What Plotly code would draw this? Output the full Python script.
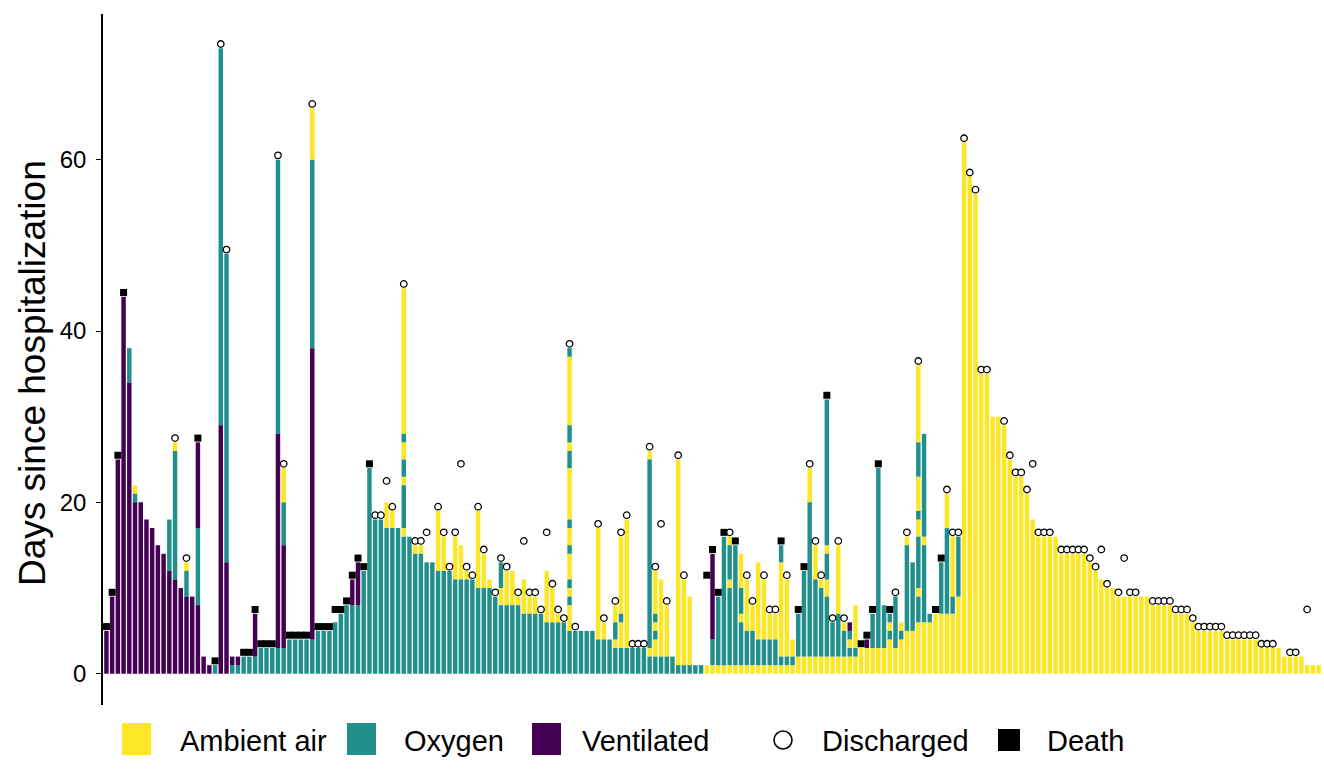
import plotly.graph_objects as go

# ---- data -------------------------------------------------------------
# One entry per patient: consecutive care states from admission upward,
# "A" ambient air, "O" oxygen, "V" ventilated, followed by number of days.
courses = [
    # 0-9
    "V5", "V9", "V25", "V44", "V34 O4", "V20 O1 A1", "V20", "V18", "V17", "V15",
    # 10-19
    "V14", "V12 O6", "V11 O15 A1", "V10", "V9 O3 A1", "V9", "V8 O9 V10", "V2", "V1", "O1",
    # 20-29
    "V29 O44", "V13 O36", "O1 V1", "O1 V1", "O2", "O2", "O2 V5", "O3", "O3", "O3",
    # 30-39
    "O3 V25 O32", "O3 V12 O5 A4", "O4", "O4", "O4", "O4", "O4 V34 O22 A6", "O5", "O5", "O5",
    # 40-49
    "O6", "O7", "O8", "O8 V3", "O8 V5", "O12", "O24", "O18", "O18", "O17 A3",
    # 50-59
    "O17 A2", "O17", "O16 A1 O5 A1 O2 A2 O1 A17", "O16", "O14 A1", "O14 A1", "O13", "O13",
    "O12 A7", "O12 A4",
    # 60-69
    "O12", "O11 A5", "O11 A4", "O11 A1", "O11", "O10 A9", "O10 A4", "O10 A1", "O9", "O8 A2 O3",
    # 70-79
    "O8 A4", "O8 A4", "O8 A1", "O7 A4", "O7 A2", "O7 A2", "O7", "O6 A6", "O6 A4", "O6 A1",
    # 80-89
    "O6", "O5 A3 O1 A1 O1 A3 O1 A2 O1 A6 O2 A1 O2 A8 O1", "O5", "O5", "O5", "O5", "O4 A13",
    "O4 A2", "O4", "O3 A1 O2 A2",
    # 90-99
    "O3 A3 O1 A9", "O3 A15", "O3", "O3", "O3", "O2 A1 O22 A1", "O2 A2 O1 A1 O1 A5", "O2 A9",
    "O2 A6", "O2",
    # 100-109
    "O1 A24", "O1 A10", "O1 A8", "O1", "O1", "A1", "A1 O3 V10", "A1 O8", "A1 O15",
    "A1 O9 A1 O4 A1",
    # 110-119
    "A1 O14", "A1 O5 A1 O3 A4", "A1 O4 A6", "A1 O4 A3", "A1 O3 A9", "A1 O3 A7", "A1 O3 A3",
    "A1 O3 A3", "A1 O1 A11 O2", "A1 O1 A9",
    # 120-129
    "A1 O1 A2", "A2 O5", "A2 O10", "A2 O18 A4", "A2 O9 A4", "A2 O8 A1", "A2 O7 A2 O3 A1 O17",
    "A2 O4", "A2 O5 A8", "A2 O3 A1",
    # 130-139
    "A2 O1 A1 O1 V1", "A2 O1 A5", "A3", "A3 V1", "A3 O4", "A3 O21", "A3 O5", "A4 O1 A1 O1",
    "A3 O6", "A4 O1 A1",
    # 140-149
    "A5 O10 A1", "A5 O8", "A6 O3 A1 O6 A2 O1 A4 O4 A9", "A6 O9 A1 O12", "A6 O1", "A7", "A7 O6",
    "A7 O10 A4", "A7 O2 A7", "A9 O7",
    # 150-159
    "A62", "A58", "A56", "A35", "A35", "A30", "A30", "A29", "A25", "A23",
    # 160-168
    "A23", "A21", "A18", "A16", "A16", "A16", "A16", "A14", "A14",
    # 169-178
    "A14", "A14", "A14", "A13", "A12", "A11", "A10", "A10", "A9", "A9",
    # 179-188
    "A9", "A9", "A9", "A9", "A8", "A8", "A8", "A8", "A7", "A7",
    # 189-198
    "A7", "A6", "A5", "A5", "A5", "A5", "A5", "A4", "A4", "A4",
    # 199-208
    "A4", "A4", "A4", "A3", "A3", "A3", "A3", "A2", "A2", "A2",
    # 209-212
    "A2", "A1", "A1", "A1",
]

# Outcome per patient: C = discharged, D = death, - = none recorded
outcome_kind = "".join([
    "DDDD------", "--C-C-D--D", "CC--DDDDDD", "CCDDDDCDDD", "DDDDDDDCCC",
    "C-C-CCC-CC", "CCCCCCC-CC", "C-CCCCCCCC", "CCC---CC-C", "CCCCCCCCC-",
    "CC---DDDDC", "D-CC-CCCDC", "-DDCCCDCCC", "--DDDD-DC-", "C-C--DDCCC",
    "CCCCC--CCC", "CCCCCC-CC", "CCCCCCC-CC", "CC--CCCCCC", "CCCCCCCCCC",
    "CCCCCC--CC", "-C--",
])

# Day of the outcome (None where no outcome is recorded)
N_ = None
outcome_day = [
    5.5, 9.5, 25.5, 44.5, N_, N_, N_, N_, N_, N_,
    N_, N_, 27.5, N_, 13.5, N_, 27.5, N_, N_, 1.5,
    73.5, 49.5, N_, N_, 2.5, 2.5, 7.5, 3.5, 3.5, 3.5,
    60.5, 24.5, 4.5, 4.5, 4.5, 4.5, 66.5, 5.5, 5.5, 5.5,
    7.5, 7.5, 8.5, 11.5, 13.5, 12.5, 24.5, 18.5, 18.5, 22.5,
    19.5, N_, 45.5, N_, 15.5, 15.5, 16.5, N_, 19.5, 16.5,
    12.5, 16.5, 24.5, 12.5, 11.5, 19.5, 14.5, N_, 9.5, 13.5,
    12.5, N_, 9.5, 15.5, 9.5, 9.5, 7.5, 16.5, 10.5, 7.5,
    6.5, 38.5, 5.5, N_, N_, N_, 17.5, 6.5, N_, 8.5,
    16.5, 18.5, 3.5, 3.5, 3.5, 26.5, 12.5, 17.5, 8.5, N_,
    25.5, 11.5, N_, N_, N_, 11.5, 14.5, 9.5, 16.5, 16.5,
    15.5, N_, 11.5, 8.5, N_, 11.5, 7.5, 7.5, 15.5, 11.5,
    N_, 7.5, 12.5, 24.5, 15.5, 11.5, 32.5, 6.5, 15.5, 6.5,
    N_, N_, 3.5, 4.5, 7.5, 24.5, N_, 7.5, 9.5, N_,
    16.5, N_, 36.5, N_, N_, 7.5, 13.5, 21.5, 16.5, 16.5,
    62.5, 58.5, 56.5, 35.5, 35.5, N_, N_, 29.5, 25.5, 23.5,
    23.5, 21.5, 24.5, 16.5, 16.5, 16.5, N_, 14.5, 14.5,
    14.5, 14.5, 14.5, 13.5, 12.5, 14.5, 10.5, N_, 9.5, 13.5,
    9.5, 9.5, N_, N_, 8.5, 8.5, 8.5, 8.5, 7.5, 7.5,
    7.5, 6.5, 5.5, 5.5, 5.5, 5.5, 5.5, 4.5, 4.5, 4.5,
    4.5, 4.5, 4.5, 3.5, 3.5, 3.5, N_, N_, 2.5, 2.5,
    N_, 7.5, N_, N_,
]

state_order = ["A", "O", "V"]
state_names = {"A": "Ambient air", "O": "Oxygen", "V": "Ventilated"}
state_colors = {"A": "#FDE725", "O": "#21908C", "V": "#440154"}

y_ticks = [0, 20, 40, 60]

# ---- geometry ---------------------------------------------------------
W, H = 1324, 783
ML, MR, MT, MB = 103, 2, 14, 78
n_pat = len(courses)

# ---- stacked segments -------------------------------------------------
segs = {s: {"x": [], "base": [], "len": []} for s in state_order}
for i, course in enumerate(courses):
    start = 0.0
    for tok in course.split():
        s, n = tok[0], float(tok[1:])
        segs[s]["x"].append(i)
        segs[s]["base"].append(start)
        segs[s]["len"].append(n)
        start += n

fig = go.Figure()
for s in state_order:
    fig.add_trace(go.Bar(
        x=segs[s]["x"], y=segs[s]["len"], base=segs[s]["base"],
        width=0.78, name=state_names[s], showlegend=False,
        marker=dict(color=state_colors[s], line=dict(width=0)),
    ))

dis = [i for i, k in enumerate(outcome_kind) if k == "C"]
dth = [i for i, k in enumerate(outcome_kind) if k == "D"]
fig.add_trace(go.Scatter(
    x=dis, y=[outcome_day[i] for i in dis], mode="markers", showlegend=False,
    marker=dict(symbol="circle", size=6.5, color="white",
                line=dict(color="black", width=1.3)),
))
fig.add_trace(go.Scatter(
    x=dth, y=[outcome_day[i] for i in dth], mode="markers", showlegend=False,
    marker=dict(symbol="square", size=7, color="black", line=dict(width=0)),
))

# ---- manual legend ----------------------------------------------------
pw, ph = W - ML - MR, H - MT - MB


def px(x):
    return (x - ML) / pw


def py(y):
    return (H - MB - y) / ph


shapes, annos = [], []
legend_font = dict(family="Liberation Sans, Arial, sans-serif", size=29, color="black")
key_boxes = [("A", 122, 151), ("O", 347, 376), ("V", 532, 561)]
text_x = {"A": 178, "O": 402, "V": 580}
for s, x0, x1 in key_boxes:
    shapes.append(dict(type="rect", xref="paper", yref="paper",
                       x0=px(x0), x1=px(x1), y0=py(755), y1=py(723),
                       fillcolor=state_colors[s], line=dict(width=0)))
    annos.append(dict(xref="paper", yref="paper", x=px(text_x[s]), y=py(741),
                      text=state_names[s], showarrow=False, xanchor="left",
                      yanchor="middle", font=legend_font))
shapes.append(dict(type="circle", xref="paper", yref="paper",
                   x0=px(774), x1=px(792), y0=py(749), y1=py(731),
                   fillcolor="white", line=dict(color="black", width=1.6)))
annos.append(dict(xref="paper", yref="paper", x=px(820), y=py(741), text="Discharged",
                  showarrow=False, xanchor="left", yanchor="middle", font=legend_font))
shapes.append(dict(type="rect", xref="paper", yref="paper",
                   x0=px(998), x1=px(1020), y0=py(751), y1=py(729),
                   fillcolor="black", line=dict(width=0)))
annos.append(dict(xref="paper", yref="paper", x=px(1045), y=py(741), text="Death",
                  showarrow=False, xanchor="left", yanchor="middle", font=legend_font))

# y-axis title
annos.append(dict(xref="paper", yref="paper", x=px(33), y=py(373),
                  text="Days since hospitalization", textangle=-90, showarrow=False,
                  xanchor="center", yanchor="middle",
                  font=dict(family="Liberation Sans, Arial, sans-serif", size=37,
                            color="black")))

fig.update_layout(
    width=W, height=H, margin=dict(l=ML, r=MR, t=MT, b=MB),
    barmode="overlay", plot_bgcolor="white", paper_bgcolor="white",
    showlegend=False, shapes=shapes, annotations=annos,
    xaxis=dict(range=[-0.6, n_pat - 0.4], visible=False, fixedrange=True),
    yaxis=dict(range=[-3.65, 77.0], tickvals=y_ticks, ticks="outside", ticklen=5,
               tickwidth=1.3, tickcolor="black", showline=True, linecolor="black",
               linewidth=1.6, showgrid=False, zeroline=False, ticklabelstandoff=5,
               tickfont=dict(family="Liberation Sans, Arial, sans-serif", size=24,
                             color="black")),
)

fig.write_html("out.html")
